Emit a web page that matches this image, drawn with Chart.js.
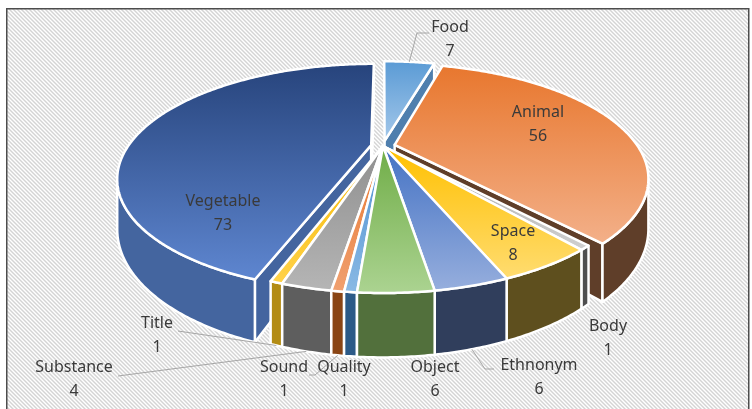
<!DOCTYPE html>
<html>
<head>
<meta charset="utf-8">
<script src="https://cdn.jsdelivr.net/npm/chart.js@4.4.0/dist/chart.umd.min.js"></script>
<style>
  html, body { margin: 0; padding: 0; background: #fff; }
  #wrap { width: 752px; height: 409px; }
</style>
</head>
<body>
<div id="wrap"><canvas id="pieChart" width="752" height="409"></canvas></div>
<script>
const categories = ["Food", "Animal", "Body", "Space", "Ethnonym", "Object", "Quality", "Sound", "Substance", "Title", "Vegetable"];
const counts = [7, 56, 1, 8, 6, 6, 1, 1, 4, 1, 73];
const explodedSlices = ["Food", "Animal", "Vegetable"];

// top face gradient (back -> front) and side colour per slice
const topColors = [
  ["#5B9BD5", "#A4C8EA"], ["#E8772E", "#F3B089"], ["#A5A5A5", "#D0D0D0"], ["#FFC000", "#FFDC70"],
  ["#4472C4", "#96AEDD"], ["#70AD47", "#ABD391"], ["#4C8FD0", "#8AB9E4"], ["#E8772E", "#F0A070"],
  ["#8F8F8F", "#B5B5B5"], ["#F6B800", "#FFD24A"], ["#27447C", "#5E86D0"]
];
const sideColors = ["#4F7FAE", "#5F3E29", "#4F4F4F", "#5E4F1E", "#303E5C", "#52703C",
  "#2C5A87", "#8A4515", "#5E5E5E", "#B38C14", "#44659F"];

// label placement (Excel manual positions) and leader lines
const labelSpots = {
  Food: [450, 27], Animal: [538, 112], Body: [608, 326], Space: [513, 231], Ethnonym: [539, 365],
  Object: [435, 367], Quality: [344, 367], Sound: [284, 367], Substance: [74, 367], Title: [157, 323],
  Vegetable: [223, 201]
};
const leaders = {
  Food: { pts: [[429, 33], [417, 33]], end: "top" },
  Ethnonym: { pts: [[494, 369], [485, 369]], end: "bottom" },
  Sound: { pts: [[309, 375], [315, 375]], end: "bottom" },
  Title: { pts: [[178, 331]], end: "bottom" },
  Substance: { pts: [[118, 376]], end: "bottom" }
};

const view = { cx: 383, cy: 146, R: 243, k: 0.432, D: 850, H: 46 };

function proj(u, v, h) {
  const p = view.D / (view.D - v);
  return { x: view.cx + u * p, y: view.cy + (view.k * v + h) * p };
}

function sliceGeom(el) {
  const a = el.startAngle, b = el.endAngle, m = (a + b) / 2;
  const off = el.options.offset || 0;
  const ox = off * Math.cos(m), oy = off * Math.sin(m);
  const n = Math.max(2, Math.ceil((b - a) / 0.01));
  const rim = [];
  for (let j = 0; j <= n; j++) {
    const t = a + (b - a) * j / n;
    rim.push({ u: ox + view.R * Math.cos(t), v: oy + view.R * Math.sin(t) });
  }
  return { a, b, m, ox, oy, rim };
}

function poly(ctx, pts, fill) {
  ctx.beginPath();
  pts.forEach((p, i) => i ? ctx.lineTo(p.x, p.y) : ctx.moveTo(p.x, p.y));
  ctx.closePath();
  ctx.fillStyle = fill;
  ctx.fill();
  ctx.stroke();
}

const backdrop = {
  id: "backdrop",
  beforeDraw(chart) {
    const ctx = chart.ctx;
    const tile = document.createElement("canvas");
    tile.width = 4; tile.height = 4;
    const t = tile.getContext("2d");
    t.fillStyle = "#ffffff";
    t.fillRect(0, 0, 4, 4);
    t.strokeStyle = "#d4d4d4";
    t.lineWidth = 1.4;
    [-4, 0, 4].forEach(s => {
      t.beginPath(); t.moveTo(s - 1, -1); t.lineTo(s + 5, 5); t.stroke();
    });
    ctx.save();
    ctx.fillStyle = "#ffffff";
    ctx.fillRect(0, 0, chart.width, chart.height);
    ctx.fillStyle = ctx.createPattern(tile, "repeat");
    ctx.fillRect(7, 9, 742, 400);
    ctx.strokeStyle = "#4d4d4d";
    ctx.lineWidth = 1.5;
    ctx.strokeRect(6.75, 8.75, 742, 410);
    ctx.restore();
  }
};

const pie3d = {
  id: "pie3d",
  beforeDatasetsDraw(chart) {
    const ctx = chart.ctx;
    const arcs = chart.getDatasetMeta(0).data;
    const H = view.H;
    const order = arcs.map((el, i) => ({ el, i, g: sliceGeom(el) }))
      .sort((p, q) => Math.sin(p.g.m) - Math.sin(q.g.m));
    ctx.save();
    ctx.strokeStyle = "#ffffff";
    ctx.lineWidth = 2.5;
    ctx.lineJoin = "round";
    order.forEach(({ i, g }) => {
      const side = sideColors[i];
      const C = { u: g.ox, v: g.oy };
      const Q = proj(g.ox + view.R * 0.5 * Math.cos(g.m), g.oy + view.R * 0.5 * Math.sin(g.m), 0);
      const c0 = proj(C.u, C.v, 0);
      // radial walls
      [g.rim[0], g.rim[g.rim.length - 1]].forEach(P => {
        const p0 = proj(P.u, P.v, 0);
        const dx = p0.x - c0.x, dy = p0.y - c0.y;
        if (Math.abs(dx) < 0.5) return;
        const cross = dx * (Q.y - c0.y) - dy * (Q.x - c0.x);
        if (cross * Math.sign(dx) < 0) {
          poly(ctx, [c0, p0, proj(P.u, P.v, H), proj(C.u, C.v, H)], side);
        }
      });
      // outer wall, front facing parts only
      const tops = g.rim.map(r => proj(r.u, r.v, 0));
      const bots = g.rim.map(r => proj(r.u, r.v, H));
      let j = 0;
      while (j < tops.length - 1) {
        if (tops[j + 1].x < tops[j].x) {
          let s = j;
          while (j < tops.length - 1 && tops[j + 1].x < tops[j].x) j++;
          poly(ctx, tops.slice(s, j + 1).concat(bots.slice(s, j + 1).reverse()), side);
        } else j++;
      }
      // top face
      const face = [c0].concat(tops);
      const ys = face.map(p => p.y);
      const grad = ctx.createLinearGradient(0, Math.min(...ys), 0, Math.max(...ys));
      grad.addColorStop(0, topColors[i][0]);
      grad.addColorStop(1, topColors[i][1]);
      poly(ctx, face, grad);
    });
    ctx.restore();
    return false;
  },
  afterDraw(chart) {
    const ctx = chart.ctx;
    const arcs = chart.getDatasetMeta(0).data;
    ctx.save();
    ctx.strokeStyle = "#a6a6a6";
    ctx.lineWidth = 1;
    categories.forEach((name, i) => {
      const ld = leaders[name];
      if (!ld) return;
      const g = sliceGeom(arcs[i]);
      const u = g.ox + view.R * Math.cos(g.m), v = g.oy + view.R * Math.sin(g.m);
      const end = proj(u, v, ld.end === "top" ? 0 : view.H);
      ctx.beginPath();
      ld.pts.forEach((p, k) => k ? ctx.lineTo(p[0], p[1]) : ctx.moveTo(p[0], p[1]));
      ctx.lineTo(end.x, end.y);
      ctx.stroke();
    });
    ctx.fillStyle = "#3a3a3a";
    ctx.font = '16px "Noto Sans"';
    ctx.textAlign = "center";
    ctx.textBaseline = "middle";
    categories.forEach((name, i) => {
      const [x, y] = labelSpots[name];
      ctx.fillText(name, x, y);
      ctx.fillText(String(counts[i]), x, y + 24);
    });
    ctx.restore();
  }
};

new Chart(document.getElementById("pieChart"), {
  type: "pie",
  data: {
    labels: categories,
    datasets: [{
      data: counts,
      offset: categories.map(c => explodedSlices.includes(c) ? 12 : 0),
      borderWidth: 0
    }]
  },
  options: {
    responsive: false,
    animation: false,
    rotation: 0,
    events: [],
    plugins: { legend: { display: false }, tooltip: { enabled: false } }
  },
  plugins: [backdrop, pie3d]
});
</script>
</body>
</html>
